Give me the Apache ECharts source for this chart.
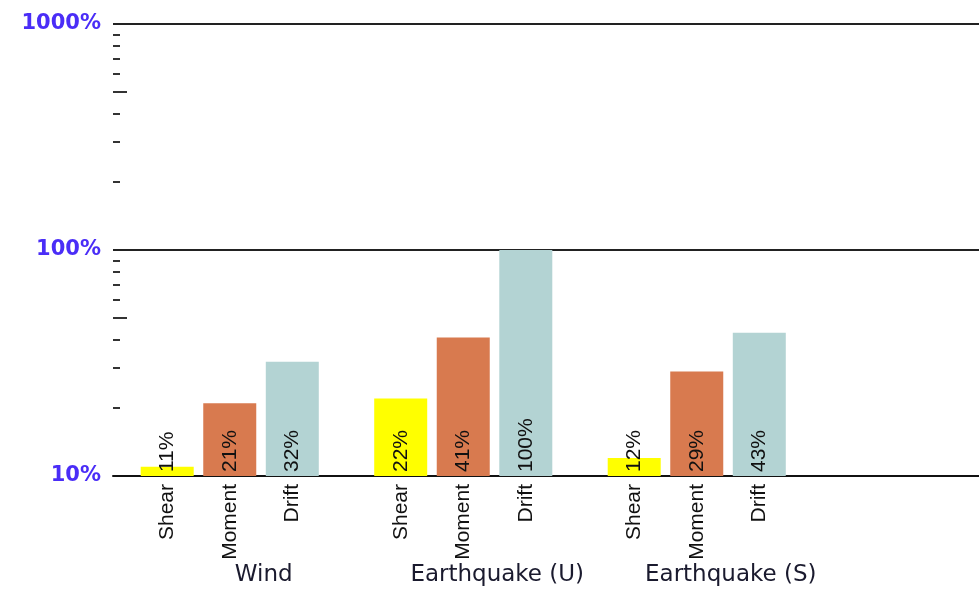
<!DOCTYPE html>
<html>
<head>
<meta charset="utf-8">
<script src="https://cdn.jsdelivr.net/npm/echarts@6/dist/echarts.min.js"></script>
<style>
  html, body { margin: 0; padding: 0; background: #ffffff; }
  #chart { width: 979px; height: 590px; }
</style>
</head>
<body>
<div id="chart"></div>
<script>
// Load cases along the x axis
const loadCases = ['Wind', 'Earthquake (U)', 'Earthquake (S)'];

// Check ratio (%) per load case
const shearValues = [11, 22, 12];
const momentValues = [21, 41, 29];
const driftValues = [32, 100, 43];

// Minor tick positions on the log axis (the 5x ticks are drawn longer)
const minorTicks = [20, 30, 40, 60, 70, 80, 90, 200, 300, 400, 600, 700, 800, 900];
const midTicks = [50, 500];

const seriesDefs = [
  { name: 'Shear', data: shearValues, color: '#ffff00' },
  { name: 'Moment', data: momentValues, color: '#d87a4f' },
  { name: 'Drift', data: driftValues, color: '#b3d3d3' }
];

const textFont = 'Liberation Sans, Arial, sans-serif';
const barW = 53;
const barGap = '18%';

const chart = echarts.init(document.getElementById('chart'), null, { renderer: 'canvas' });

const valueSeries = seriesDefs.map(s => ({
  type: 'bar',
  name: s.name,
  xAxisIndex: 0,
  yAxisIndex: 0,
  data: s.data,
  barWidth: barW,
  barGap: barGap,
  itemStyle: { color: s.color },
  label: {
    show: true,
    position: 'insideBottom',
    distance: 4,
    rotate: 90,
    align: 'left',
    verticalAlign: 'middle',
    formatter: p => p.value + '%',
    color: '#111111',
    fontFamily: textFont,
    fontSize: 21
  },
  silent: true
}));

// Transparent twins carrying the rotated component names beneath the axis
const nameSeries = seriesDefs.map(s => ({
  type: 'bar',
  name: s.name + ' label',
  xAxisIndex: 1,
  yAxisIndex: 0,
  data: s.data,
  barWidth: barW,
  barGap: barGap,
  itemStyle: { color: 'rgba(0,0,0,0)' },
  label: {
    show: true,
    position: 'bottom',
    distance: 8,
    rotate: 90,
    align: 'right',
    verticalAlign: 'middle',
    formatter: () => s.name,
    color: '#111111',
    fontFamily: textFont,
    fontSize: 21
  },
  silent: true
}));

const hiddenCategoryAxis = {
  type: 'category',
  data: loadCases,
  max: 3,
  position: 'bottom',
  axisLine: { show: false },
  axisTick: { show: false },
  axisLabel: { show: false },
  splitLine: { show: false }
};

const tickAxis = (values, len) => ({
  type: 'log',
  logBase: 10,
  min: 10,
  max: 1000,
  position: 'left',
  axisLine: { show: false },
  axisLabel: { show: false },
  splitLine: { show: false },
  axisTick: {
    show: true,
    inside: true,
    length: len,
    customValues: values,
    lineStyle: { color: '#333333', width: 2 }
  }
});

chart.setOption({
  animation: false,
  backgroundColor: '#ffffff',
  grid: {
    left: 113, top: 24, bottom: 114, width: 934,
    containLabel: false,
    outerBoundsMode: 'none'
  },
  xAxis: [
    {
      type: 'category',
      data: loadCases,
      max: 3,
      position: 'bottom',
      axisLine: { show: true, onZero: false, lineStyle: { color: '#111111', width: 2 } },
      axisTick: { show: false },
      axisLabel: {
        show: true,
        interval: 0,
        margin: 88,
        padding: [0, 0, 0, 68],
        color: '#1a1a2e',
        fontFamily: 'DejaVu Sans, sans-serif',
        fontSize: 23
      },
      splitLine: { show: false }
    },
    hiddenCategoryAxis
  ],
  yAxis: [
    {
      type: 'log',
      logBase: 10,
      min: 10,
      max: 1000,
      position: 'left',
      axisLine: { show: false },
      axisTick: { show: false },
      axisLabel: {
        show: true,
        margin: 12,
        formatter: v => v + '%',
        color: '#4a2df7',
        fontWeight: 'bold',
        fontFamily: 'DejaVu Sans, sans-serif',
        fontSize: 21
      },
      splitLine: { show: true, lineStyle: { color: '#222222', width: 2 } }
    },
    tickAxis(minorTicks, 7),
    tickAxis(midTicks, 14)
  ],
  series: valueSeries.concat(nameSeries)
});
</script>
</body>
</html>
